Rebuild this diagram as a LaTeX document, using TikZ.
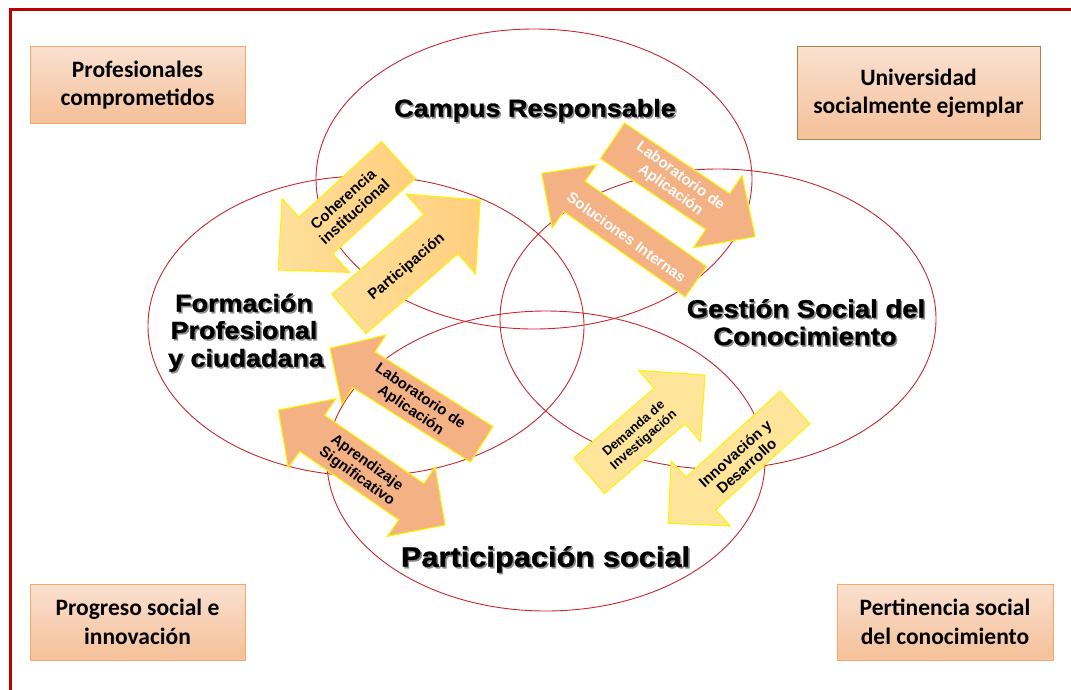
\documentclass[tikz,border=0pt]{standalone}
\usepackage{fontspec}
\setmainfont{Liberation Sans}
\newfontfamily\boxfont{Carlito}
\newfontfamily\heavyfont{Liberation Sans}[FakeStretch=1.1,FakeBold=1.2]
\usetikzlibrary{calc}

\definecolor{framered}{RGB}{192,0,0}
\definecolor{ellred}{RGB}{200,40,45}
\definecolor{arredge}{RGB}{255,242,0}
\definecolor{arrorangeA}{RGB}{255,224,155}
\definecolor{arrorangeB}{RGB}{255,206,125}
\definecolor{arrsalmon}{RGB}{244,177,131}
\definecolor{arrlight}{RGB}{255,229,153}
\definecolor{boxtop}{RGB}{253,241,236}
\definecolor{boxmid}{RGB}{245,195,158}
\definecolor{boxbot}{RGB}{249,214,190}
\definecolor{boxedge}{RGB}{248,168,110}
\definecolor{boxedgeb}{RGB}{165,135,75}

\pgfdeclareverticalshading{boxshade}{100bp}{color(0bp)=(boxbot); color(12bp)=(boxmid); color(30bp)=(boxmid); color(100bp)=(boxtop)}

\newcommand\BArrow[7]{% style, tail, angle, length, half shaft, half head, head length
  \begin{scope}[shift={(#2)}, rotate=#3]
    \draw[#1] (0,-#5) -- ({#4-#7},-#5) -- ({#4-#7},-#6) -- (#4,0) -- ({#4-#7},#6) -- ({#4-#7},#5) -- (0,#5) -- cycle;
  \end{scope}}
\newcommand\DArrow[7]{% style, centre, angle, length, half shaft, half head, head length
  \begin{scope}[shift={(#2)}, rotate=#3]
    \draw[#1] ({-#4/2},0) -- ({-#4/2+#7},#6) -- ({-#4/2+#7},#5) -- ({#4/2-#7},#5) -- ({#4/2-#7},#6) -- ({#4/2},0)
      -- ({#4/2-#7},-#6) -- ({#4/2-#7},-#5) -- ({-#4/2+#7},-#5) -- ({-#4/2+#7},-#6) -- cycle;
  \end{scope}}
\newcommand\ShLabel[4]{% name, position, size, text
  \node[mainlbl, text=black!45, font=\heavyfont\bfseries\fontsize{#3}{#3}\selectfont] at ($(#2)+(1.6,1.6)$) {#4};
  \node[mainlbl, font=\heavyfont\bfseries\fontsize{#3}{#3}\selectfont] (#1) at (#2) {#4};}

\tikzset{
  ell/.style={draw=ellred, line width=0.9pt},
  arrA/.style={left color=arrorangeA, right color=arrorangeB, draw=arredge, line width=1.1pt, line join=miter},
  arrS/.style={fill=arrsalmon, draw=arredge, line width=1.1pt, line join=miter},
  arrL/.style={fill=arrlight, draw=arredge, line width=1.1pt, line join=miter},
  arrtxt/.style={align=center, inner sep=0pt, font=\bfseries\fontsize{15}{17}\selectfont},
  mainlbl/.style={anchor=base, inner sep=0pt},
  cornerbox/.style={shading=boxshade, draw=boxedge, line width=1pt, align=center,
    font=\boxfont\bfseries\fontsize{23.5}{28.5}\selectfont, inner sep=0pt}
}

\begin{document}
\begin{tikzpicture}[x=1pt, y=-1pt]
\useasboundingbox (0,0) rectangle (1071,689);
\clip (0,0) rectangle (1071,689);

% frame
\draw[framered, line width=3pt] (10.5,9.5) rectangle (1090,710);

% ellipses
\draw[ell] (534,179) ellipse [x radius=218, y radius=150];
\draw[ell] (366,326) ellipse [x radius=218, y radius=150];
\draw[ell] (718,319) ellipse [x radius=218, y radius=150];
\draw[ell] (546,461) ellipse [x radius=219, y radius=150];

% arrows
\BArrow{arrA}{398.3,160}{-137.5}{162.8}{25}{50}{51}
\BArrow{arrA}{349,314}{41}{173.7}{26}{53}{52}
\BArrow{arrS}{612.5,140.8}{-33.9}{171.8}{21.5}{43.5}{45}
\BArrow{arrS}{695.8,281.7}{144.9}{188.4}{18.5}{38.5}{40}
\DArrow{arrS}{361.7,467.5}{-34.6}{202.5}{22}{42}{41}
\BArrow{arrS}{481.7,444.2}{147.7}{179.5}{21}{41}{40}
\BArrow{arrL}{589.2,475.8}{41}{153.5}{23.5}{47}{47}
\BArrow{arrL}{795,407.5}{-137.6}{171.6}{22}{44}{44}

% arrow texts
\node[arrtxt, rotate=42] (tcoh) at (348.7,205.3) {Coherencia\\institucional};
\node[arrtxt, rotate=40] (tpar) at (406.7,267.3) {Participación};
\node[arrtxt, rotate=-36, text=white] (tlab1) at (675.3,183.3) {Laboratorio de\\Aplicación};
\node[arrtxt, rotate=-36, text=white] (tsol) at (626.7,237.3) {Soluciones Internas};
\node[arrtxt, rotate=-34] (tlab2) at (415.3,403.7) {Laboratorio de\\Aplicación};
\node[arrtxt, rotate=-36] (tapr) at (361.7,470) {Aprendizaje\\Significativo};
\node[arrtxt, rotate=41, font=\bfseries\fontsize{13}{15}\selectfont] (tdem) at (639,434.7) {Demanda de\\Investigación};
\node[arrtxt, rotate=42] (tinn) at (740.7,459.7) {Innovación y\\Desarrollo};

% main labels
\ShLabel{campus}{535,116.7}{24.5}{Campus Responsable}
\ShLabel{forma}{244,311.7}{24.5}{Formación}
\ShLabel{formb}{244,338.8}{24.5}{Profesional}
\ShLabel{formc}{246,366.7}{24.5}{y ciudadana}
\ShLabel{gesta}{806,317.5}{25}{Gestión Social del}
\ShLabel{gestb}{805,345}{25}{Conocimiento}
\ShLabel{partsoc}{545.5,566.7}{28}{Participación social}

% corner boxes
\node[cornerbox, minimum width=215, minimum height=77] (bprof) at (137.5,85) {Profesionales\\comprometidos};
\node[cornerbox, draw=boxedgeb, minimum width=243, minimum height=93] (buniv) at (918.5,93) {Universidad\\socialmente ejemplar};
\node[cornerbox, minimum width=215, minimum height=76] (bprog) at (137.5,622) {Progreso social e\\innovación};
\node[cornerbox, minimum width=216, minimum height=76] (bpert) at (945,622) {Pertinencia social\\del conocimiento};
\end{tikzpicture}
\end{document}
